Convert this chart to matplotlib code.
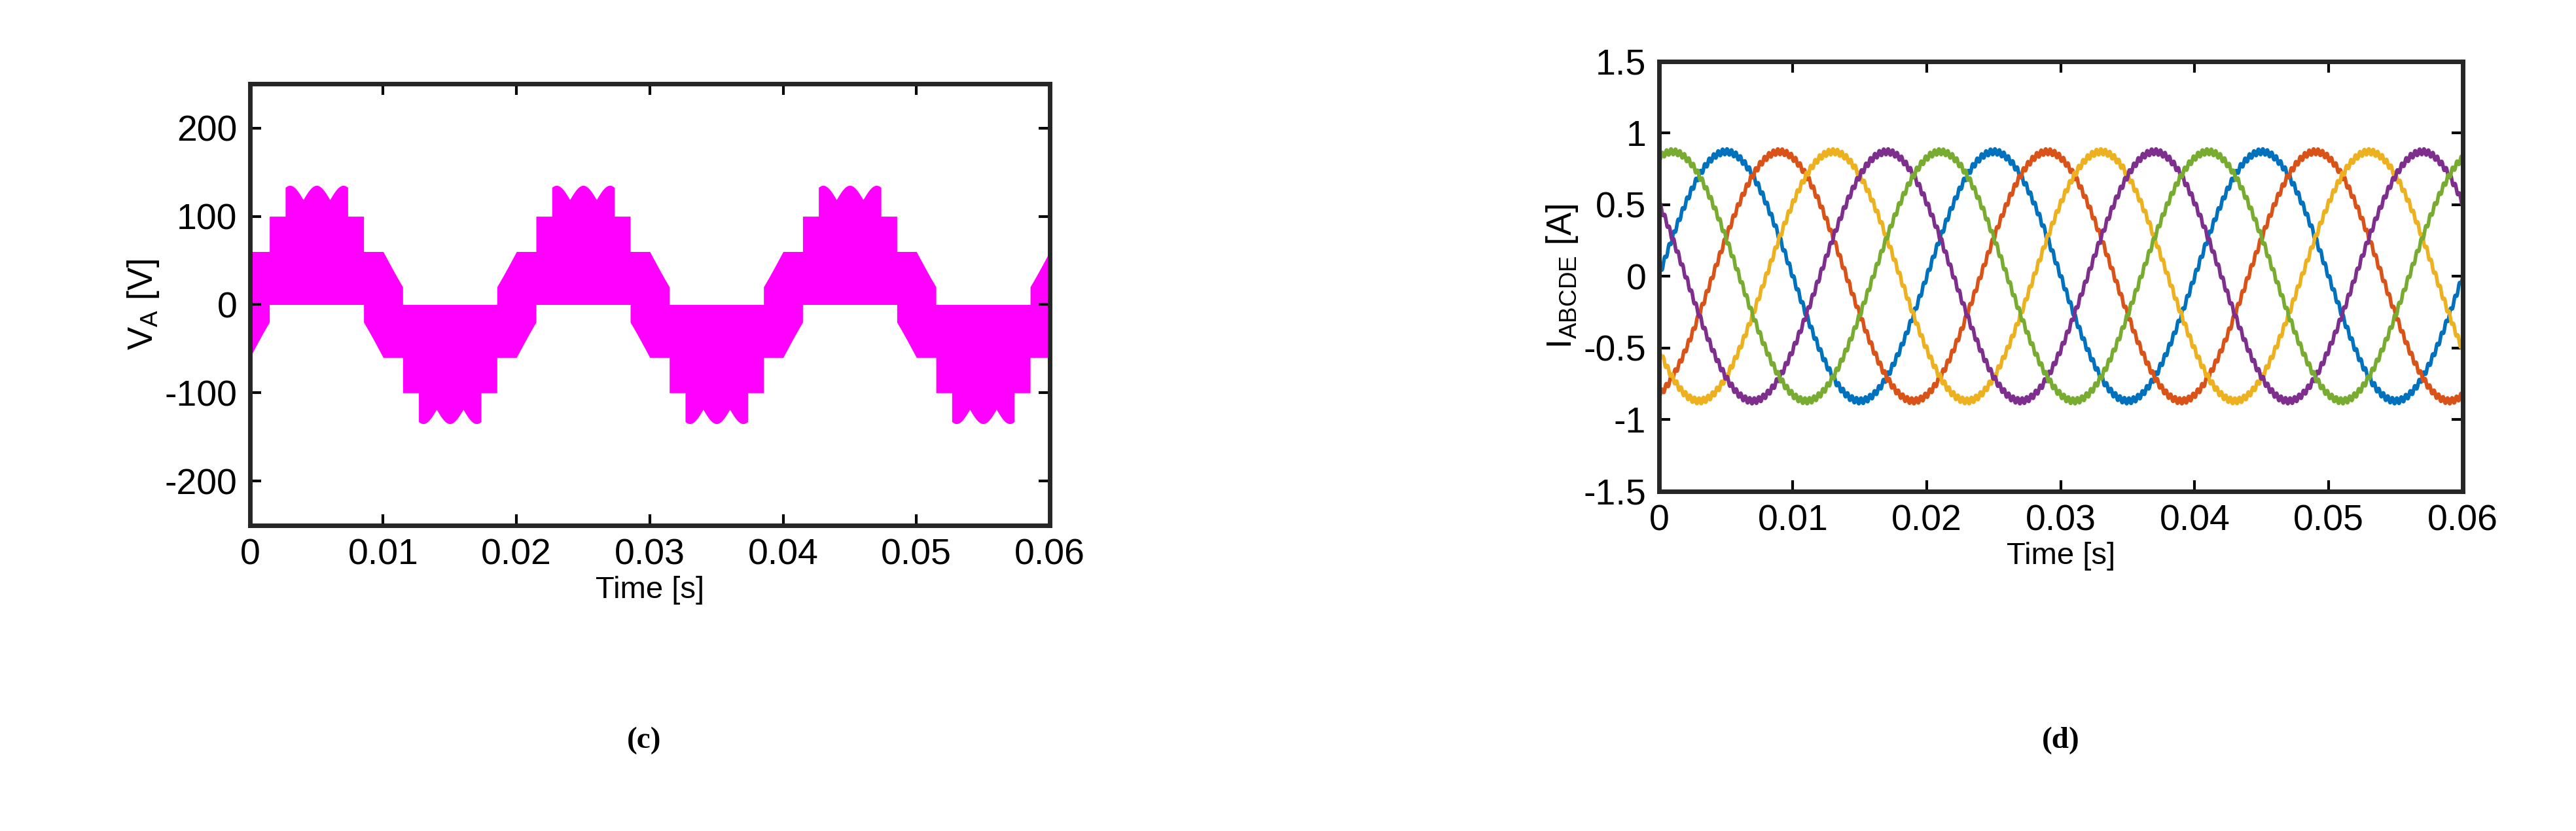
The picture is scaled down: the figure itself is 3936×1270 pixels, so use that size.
import numpy as np
import matplotlib
matplotlib.use("Agg")
import matplotlib.pyplot as plt

plt.rcParams['font.family'] = ['Liberation Sans', 'DejaVu Sans']
plt.rcParams['axes.unicode_minus'] = False

# --- data ---
f0 = 50.0                      # fundamental frequency [Hz]
v_levels = [0, 60, 100, 135]   # voltage levels [V]
v_peak = 135                   # reference peak [V]
v_cross = 40                   # band overshoot near zero crossings [V]
i_amp = 0.87                   # current amplitude [A]
i_delays = [0.0, 0.004, 0.008, 0.012, 0.016]   # phase delays [s]
i_colors = ['#0072BD', '#D95319', '#EDB120', '#7E2F8E', '#77AC30']
v_yticks = [-200, -100, 0, 100, 200]
i_yticks = [-1.5, -1, -0.5, 0, 0.5, 1, 1.5]
xticks = [0, 0.01, 0.02, 0.03, 0.04, 0.05, 0.06]
xticklabels = ['0', '0.01', '0.02', '0.03', '0.04', '0.05', '0.06']

fig = plt.figure(figsize=(39.36, 12.7), dpi=100)
ax1 = fig.add_axes([0.097, 0.368, 0.3105, 0.531])
ax2 = fig.add_axes([0.644, 0.409, 0.312, 0.517])

t = np.linspace(0, 0.06, 60001)
ref = v_peak * np.sin(2 * np.pi * f0 * t)
lv = np.array(v_levels, float)
mag = np.abs(ref)
idx = np.clip(np.searchsorted(lv, mag), 1, len(lv) - 1)
hi = lv[idx]
scal = 0.88 + 0.12 * np.abs(np.sin(2 * np.pi * 250 * t))
hi = np.where(idx == len(lv) - 1, hi * scal, hi)
sgn = np.sign(ref)
upper = np.where(sgn > 0, hi, 0.0)
lower = np.where(sgn < 0, -hi, 0.0)
near = mag < 60
upper = np.where(near & (sgn < 0), v_cross * (1 - mag / 60) + 20, upper)
lower = np.where(near & (sgn > 0), -v_cross * (1 - mag / 60) - 20, lower)
ax1.fill_between(t, lower, upper, color='#FF00FF', lw=0)
ax1.set_xlim(0, 0.06)
ax1.set_ylim(-250, 250)
ax1.set_yticks(v_yticks)
ax1.set_ylabel('V$_\\mathregular{A}$ [V]', fontsize=38)
ax1.set_xlabel('Time [s]', fontsize=34)

for d, c in zip(i_delays, i_colors):
    y = i_amp * np.sin(2 * np.pi * f0 * (t - d)) + 0.02 * np.sin(2 * np.pi * 3000 * t + d * 1e3)
    ax2.plot(t, y, color=c, lw=4)
ax2.set_xlim(0, 0.06)
ax2.set_ylim(-1.5, 1.5)
ax2.set_yticks(i_yticks)
ax2.set_yticklabels(['-1.5', '-1', '-0.5', '0', '0.5', '1', '1.5'])
ax2.set_ylabel('I$_\\mathregular{ABCDE}$ [A]', fontsize=38)
ax2.set_xlabel('Time [s]', fontsize=34)

for ax in (ax1, ax2):
    ax.set_xticks(xticks)
    ax.set_xticklabels(xticklabels)
    ax.tick_params(labelsize=40, direction='in', length=12, width=3, top=True, right=True, pad=14)
    for s in ax.spines.values():
        s.set_linewidth(5)
        s.set_color('#262626')

fig.text(0.25, 0.10, '(c)', fontsize=34, ha='center', fontweight='bold', family=['Liberation Serif'])
fig.text(0.80, 0.10, '(d)', fontsize=34, ha='center', fontweight='bold', family=['Liberation Serif'])
fig.savefig('out.png', dpi=100)
